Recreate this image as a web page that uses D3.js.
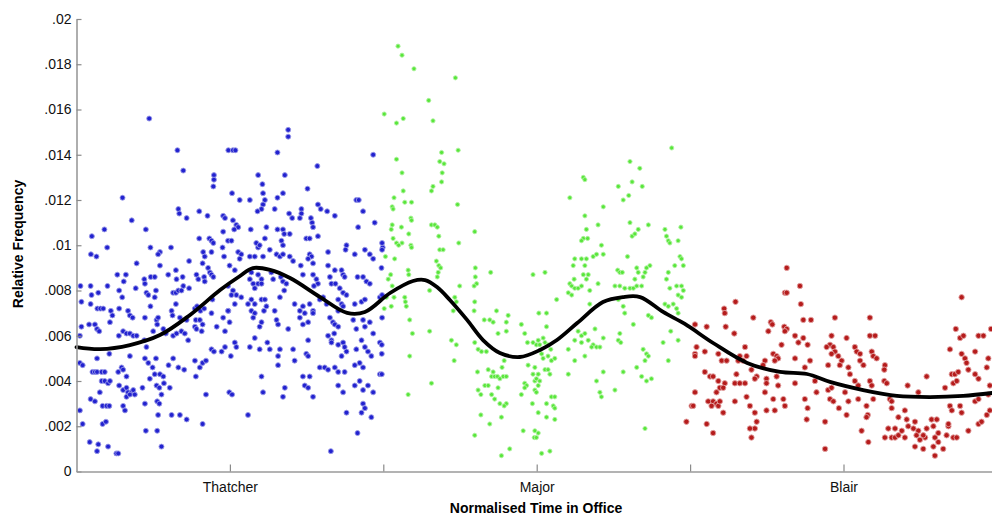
<!DOCTYPE html>
<html lang="en">
<head>
<meta charset="UTF-8">
<title>Relative frequency over normalised time in office</title>
<script src="https://d3js.org/d3.v7.min.js"></script>
<style>
  body { margin: 0; background: #fff; }
  svg { display: block; font-family: "Liberation Sans", Arial, sans-serif; }
</style>
</head>
<body>
<svg></svg>
<script>
// categories and tick labels
const pms = ["Thatcher", "Major", "Blair"];
const xTicks = [0.5, 1, 1.5, 2, 2.5];
const xTickLabels = ["Thatcher", "", "Major", "", "Blair"];
const yTicks = [0, .002, .004, .006, .008, .01, .012, .014, .016, .018, .02];
const yTickLabels = ["0", ".002", ".004", ".006", ".008", ".01", ".012", ".014", ".016", ".018", ".02"];

// [normalised time, relative frequency]
const thatcher = [
[.237,.0156],[.329,.0142],[.348,.0133],[.495,.0142],[.448,.0131],[.448,.0129],[.446,.0126],[.150,.0121],[.332,.0116],[.335,.0114],[.359,.0112],[.400,.0115],[.427,.0113],[.478,.0113],[.484,.0112],[.180,.0111],[.091,.0107],[.050,.0104],[.226,.0107],[.400,.0103],[.433,.0103],[.440,.0102],[.446,.0101],[.478,.0106],[.100,.0099],[.047,.0096],[.065,.0095],[.241,.0099],[.272,.0097],[.266,.0096],[.308,.0099],[.413,.0097],[.418,.0095],[.440,.0097],[.476,.0099],[.481,.0095],[.196,.0092],[.367,.0093],[.411,.0092],[.429,.0090],[.435,.0088],[.440,.0087],[.446,.0086],[.272,.0091],[.324,.0089],[.013,.0082],[.046,.0082],[.133,.0087],[.161,.0087],[.101,.0082],[.154,.0084],[.193,.0081],[.221,.0085],[.223,.0083],[.242,.0086],[.255,.0086],[.299,.0087],[.326,.0085],[.346,.0086],[.348,.0082],[.391,.0087],[.397,.0085],[.416,.0086],[.418,.0084],
[.049,.0078],[.071,.0079],[.139,.0080],[.149,.0077],[.228,.0079],[.234,.0078],[.259,.0080],[.255,.0077],[.315,.0079],[.324,.0079],[.332,.0080],[.342,.0080],[.367,.0081],[.443,.0076],[.016,.0075],[.046,.0074],[.068,.0072],[.078,.0072],[.087,.0072],[.112,.0071],[.117,.0069],[.139,.0072],[.168,.0071],[.174,.0069],[.183,.0068],[.223,.0068],[.241,.0073],[.261,.0067],[.266,.0068],[.263,.0065],[.310,.0071],[.313,.0069],[.324,.0074],[.337,.0068],[.359,.0067],[.386,.0072],[.393,.0073],[.404,.0071],[.416,.0072],[.389,.0067],[.402,.0067],[.411,.0065],[.440,.0070],[.478,.0068],[.495,.0071],
[.016,.0064],[.041,.0065],[.060,.0065],[.067,.0063],[.074,.0062],[.109,.0066],[.138,.0060],[.152,.0062],[.163,.0061],[.174,.0061],[.185,.0060],[.196,.0060],[.221,.0058],[.228,.0055],[.250,.0062],[.283,.0063],[.291,.0061],[.315,.0060],[.326,.0061],[.342,.0062],[.353,.0061],[.364,.0058],[.386,.0064],[.391,.0063],[.408,.0062],[.457,.0064],[.484,.0062],[.011,.0060],[.011,.0048],[.020,.0047],[.067,.0050],[.107,.0052],[.136,.0044],[.147,.0046],[.152,.0045],[.163,.0042],[.174,.0051],[.223,.0050],[.234,.0048],[.259,.0050],[.248,.0046],[.255,.0043],[.272,.0043],[.283,.0042],[.300,.0047],[.315,.0050],[.332,.0046],[.351,.0045],[.386,.0049],[.389,.0042],[.402,.0046],[.411,.0048],[.422,.0049],[.440,.0054],[.448,.0053],[.473,.0053],[.484,.0055],
[.052,.0044],[.060,.0044],[.067,.0044],[.082,.0044],[.092,.0044],[.082,.0040],[.092,.0040],[.103,.0039],[.109,.0040],[.139,.0038],[.152,.0036],[.163,.0037],[.168,.0035],[.179,.0035],[.163,.0033],[.174,.0034],[.185,.0036],[.190,.0034],[.215,.0037],[.239,.0041],[.261,.0038],[.270,.0037],[.285,.0039],[.304,.0037],[.277,.0034],[.046,.0032],[.060,.0031],[.076,.0035],[.085,.0029],[.098,.0029],[.107,.0029],[.152,.0029],[.158,.0027],[.223,.0030],[.263,.0031],[.270,.0030],[.266,.0025],[.310,.0025],[.337,.0025],[.359,.0023],[.422,.0034],[.411,.0021],[.498,.0035],[.011,.0027],[.020,.0021],[.085,.0021],[.096,.0022],[.226,.0018],[.263,.0018],[.043,.0013],[.071,.0012],[.067,.0009],[.103,.0011],[.130,.0008],[.136,.0008],[.277,.0011],
[.690,.0151],[.690,.0148],[.510,.0142],[.518,.0142],[.655,.0141],[.967,.0140],[.785,.0135],[.592,.0131],[.679,.0131],[.606,.0127],[.753,.0125],[.507,.0123],[.532,.0120],[.565,.0120],[.608,.0123],[.614,.0120],[.608,.0118],[.603,.0116],[.655,.0121],[.673,.0123],[.590,.0115],[.646,.0116],[.693,.0114],[.703,.0112],[.733,.0116],[.733,.0114],[.728,.0112],[.764,.0112],[.768,.0110],[.771,.0108],[.787,.0118],[.796,.0116],[.817,.0115],[.842,.0113],[.912,.0120],[.920,.0120],[.934,.0115],[.972,.0110],[.918,.0108],[.510,.0111],[.521,.0109],[.527,.0108],[.514,.0107],[.568,.0107],[.619,.0108],[.655,.0107],[.673,.0107],[.677,.0105],[.695,.0105],[.749,.0103],[.760,.0103],[.787,.0104],[.614,.0103],[.494,.0102],[.505,.0102],[.586,.0101],[.592,.0099],[.597,.0100],[.668,.0102],[.673,.0100],[.630,.0098],[.527,.0097],[.537,.0096],[.532,.0094],[.565,.0095],[.581,.0095],[.608,.0095],[.652,.0096],[.663,.0095],[.673,.0096],[.695,.0095],[.706,.0093],[.760,.0096],[.766,.0095],[.755,.0094],[.771,.0092],[.731,.0091],[.820,.0097],[.880,.0100],[.877,.0098],[.907,.0096],[.940,.0098],[.956,.0096],[.967,.0094],[.998,.0099],
[.499,.0091],[.516,.0089],[.570,.0088],[.565,.0085],[.576,.0083],[.581,.0081],[.592,.0087],[.603,.0085],[.592,.0083],[.603,.0083],[.635,.0088],[.641,.0085],[.666,.0086],[.673,.0084],[.684,.0083],[.738,.0087],[.771,.0087],[.782,.0085],[.787,.0083],[.774,.0082],[.820,.0091],[.826,.0086],[.831,.0083],[.842,.0089],[.864,.0089],[.869,.0087],[.874,.0086],[.844,.0083],[.858,.0081],[.869,.0079],[.880,.0078],[.916,.0086],[.934,.0086],[.945,.0084],[.956,.0083],[.494,.0082],[.510,.0080],[.521,.0078],[.505,.0078],[.537,.0077],[.516,.0074],[.559,.0074],[.570,.0076],[.581,.0074],[.603,.0076],[.614,.0076],[.619,.0073],[.611,.0071],[.663,.0077],[.677,.0080],[.711,.0074],[.728,.0071],[.738,.0073],[.744,.0070],[.760,.0074],[.771,.0071],[.793,.0076],[.804,.0077],[.815,.0074],[.853,.0076],[.864,.0074],[.853,.0071],[.869,.0073],[.907,.0074],[.929,.0075],[.940,.0076],[.989,.0077],
[.494,.0071],[.499,.0066],[.570,.0071],[.581,.0070],[.576,.0068],[.603,.0066],[.597,.0064],[.646,.0071],[.652,.0067],[.657,.0065],[.690,.0063],[.728,.0068],[.738,.0065],[.755,.0066],[.771,.0070],[.826,.0068],[.836,.0066],[.842,.0065],[.853,.0064],[.902,.0067],[.912,.0063],[.934,.0067],[.940,.0064],[.956,.0066],[.516,.0057],[.521,.0055],[.503,.0051],[.565,.0055],[.581,.0059],[.597,.0054],[.622,.0057],[.630,.0054],[.663,.0054],[.657,.0051],[.706,.0054],[.711,.0049],[.749,.0052],[.755,.0051],[.755,.0058],[.820,.0060],[.831,.0058],[.840,.0061],[.831,.0057],[.853,.0056],[.869,.0057],[.874,.0055],[.864,.0051],[.880,.0053],[.912,.0054],[.929,.0058],[.940,.0055],[.950,.0053],[.961,.0051],[.923,.0048],[.934,.0046],[.967,.0061],[.989,.0057],
[.657,.0047],[.793,.0046],[.809,.0046],[.820,.0045],[.842,.0046],[.853,.0044],[.874,.0044],[.907,.0047],[.989,.0043],[.603,.0042],[.738,.0042],[.760,.0042],[.744,.0038],[.755,.0037],[.771,.0033],[.679,.0037],[.673,.0033],[.608,.0035],[.507,.0034],[.853,.0038],[.869,.0035],[.907,.0038],[.923,.0040],[.934,.0036],[.950,.0038],[.967,.0035],[.934,.0030],[.940,.0028],[.929,.0026],[.961,.0024],[.880,.0026],[.559,.0025],[.916,.0017],[.829,.0009],
[.996,.0101],[.996,.0098],[.994,.0090],[.996,.0078],[.996,.0068],[.995,.0056],[.995,.0052],[.995,.0043]
];

const major = [
[1.048,.0188],[1.061,.0184],[1.100,.0178],[1.235,.0174],[1.148,.0164],[1.003,.0158],[1.043,.0154],[1.065,.0156],[1.162,.0155],[1.190,.0141],[1.244,.0142],[1.043,.0138],[1.184,.0137],[1.198,.0136],[1.192,.0132],[1.190,.0128],[1.061,.0132],[1.065,.0124],[1.162,.0126],[1.157,.0124],[1.035,.0121],[1.029,.0117],[1.032,.0116],[1.070,.0119],[1.092,.0119],[1.242,.0118],[1.090,.0112],[1.092,.0111],[1.029,.0109],[1.026,.0107],[1.032,.0103],[1.059,.0108],[1.157,.0109],[1.168,.0109],[1.176,.0108],[1.083,.0105],[1.298,.0106],[1.181,.0104],[1.043,.0101],[1.061,.0101],[1.050,.0100],[1.090,.0100],[1.092,.0099],[1.246,.0101],[1.007,.0095],[1.184,.0098],[1.195,.0098],[1.037,.0094],[1.173,.0093],[1.181,.0091],[1.187,.0090],[1.300,.0090],[1.081,.0089],[1.083,.0087],[1.179,.0088],[1.176,.0086],[1.024,.0087],[1.016,.0085],[1.029,.0082],[1.350,.0088],[1.300,.0086],[1.304,.0083],[1.296,.0082],[1.488,.0087],[1.249,.0082],[1.151,.0080],
[1.010,.0077],[1.035,.0077],[1.070,.0077],[1.072,.0075],[1.075,.0073],[1.233,.0077],[1.238,.0075],[1.298,.0075],[1.003,.0072],[1.026,.0073],[1.228,.0071],[1.296,.0071],[1.369,.0071],[1.407,.0069],[1.086,.0067],[1.329,.0067],[1.347,.0067],[1.358,.0066],[1.401,.0066],[1.450,.0065],[1.461,.0061],[1.374,.0061],[1.401,.0062],[1.151,.0062],[1.095,.0061],[1.222,.0058],[1.238,.0056],[1.298,.0057],[1.309,.0054],[1.320,.0053],[1.336,.0053],[1.470,.0057],[1.488,.0057],[1.499,.0056],[1.086,.0051],[1.231,.0049],[1.472,.0047],[1.307,.0044],[1.342,.0045],[1.358,.0044],[1.353,.0042],[1.363,.0042],[1.372,.0042],[1.380,.0041],[1.391,.0042],[1.401,.0042],[1.394,.0049],[1.387,.0046],[1.461,.0039],[1.467,.0038],[1.488,.0043],[1.494,.0040],[1.331,.0038],[1.342,.0038],[1.309,.0036],[1.318,.0034],[1.374,.0037],[1.353,.0034],[1.363,.0032],[1.450,.0034],[1.461,.0037],[1.380,.0030],[1.401,.0030],[1.394,.0029],[1.486,.0030],[1.318,.0025],[1.385,.0024],[1.347,.0021],[1.456,.0018],[1.492,.0015],[1.298,.0016],[1.412,.0010],[1.385,.0007],[1.157,.0039],[1.081,.0034],
[1.940,.0143],[1.804,.0137],[1.836,.0134],[1.652,.0130],[1.657,.0129],[1.811,.0128],[1.766,.0126],[1.844,.0126],[1.608,.0121],[1.800,.0122],[1.782,.0120],[1.717,.0117],[1.657,.0113],[1.700,.0109],[1.804,.0110],[1.831,.0107],[1.864,.0109],[1.662,.0107],[1.652,.0103],[1.646,.0102],[1.666,.0103],[1.811,.0104],[1.820,.0105],[1.918,.0107],[1.923,.0104],[1.929,.0102],[1.934,.0101],[1.961,.0102],[1.970,.0108],[1.711,.0100],[1.717,.0096],[1.624,.0094],[1.646,.0094],[1.662,.0094],[1.684,.0095],[1.695,.0096],[1.796,.0095],[1.967,.0095],[1.972,.0094],[1.527,.0088],[1.657,.0091],[1.619,.0091],[1.869,.0091],[1.858,.0090],[1.826,.0090],[1.831,.0088],[1.764,.0089],[1.771,.0088],[1.779,.0088],[1.929,.0088],[1.950,.0091],[1.978,.0091],[1.652,.0087],[1.662,.0085],[1.668,.0087],[1.622,.0085],[1.608,.0083],[1.614,.0082],[1.624,.0081],[1.635,.0081],[1.646,.0082],[1.700,.0083],[1.755,.0082],[1.771,.0082],[1.787,.0081],[1.804,.0081],[1.815,.0081],[1.826,.0082],[1.842,.0082],[1.820,.0085],[1.847,.0086],[1.853,.0088],[1.956,.0082],[1.972,.0082],[1.978,.0080],[1.961,.0078],[1.972,.0077],[1.923,.0085],[1.934,.0081],
[1.603,.0079],[1.614,.0078],[1.673,.0080],[1.673,.0074],[1.565,.0076],[1.507,.0070],[1.532,.0070],[1.766,.0076],[1.782,.0073],[1.787,.0070],[1.864,.0069],[1.874,.0068],[1.918,.0074],[1.929,.0073],[1.945,.0074],[1.956,.0072],[1.961,.0070],[1.815,.0065],[1.532,.0064],[1.635,.0062],[1.646,.0060],[1.657,.0061],[1.690,.0063],[1.771,.0061],[1.766,.0058],[1.774,.0057],[1.937,.0062],[1.505,.0058],[1.521,.0059],[1.527,.0057],[1.510,.0056],[1.537,.0056],[1.624,.0058],[1.646,.0057],[1.668,.0058],[1.684,.0056],[1.695,.0055],[1.706,.0055],[1.717,.0059],[1.679,.0055],[1.912,.0057],[1.961,.0058],[1.546,.0054],[1.537,.0051],[1.548,.0049],[1.603,.0054],[1.516,.0052],[1.521,.0050],[1.559,.0050],[1.624,.0049],[1.657,.0051],[1.847,.0054],[1.858,.0052],[1.853,.0049],[1.864,.0051],[1.826,.0046],[1.929,.0049],[1.494,.0046],[1.505,.0043],[1.499,.0041],[1.510,.0040],[1.505,.0038],[1.527,.0045],[1.537,.0045],[1.543,.0043],[1.717,.0044],[1.782,.0044],[1.603,.0043],[1.842,.0042],[1.858,.0040],[1.874,.0041],[1.695,.0040],[1.494,.0036],[1.499,.0035],[1.755,.0036],[1.706,.0035],[1.711,.0033],[1.532,.0030],[1.554,.0029],[1.559,.0028],[1.548,.0033],[1.559,.0033],[1.505,.0026],[1.532,.0024],[1.559,.0023],[1.494,.0018],[1.505,.0017],[1.499,.0015],[1.853,.0019],[1.516,.0008],[1.543,.0009]
];

const blair = [
[2.315,.0090],[2.309,.0079],[2.315,.0079],[2.358,.0082],[2.148,.0075],[2.361,.0074],[2.885,.0077],[2.111,.0072],[2.113,.0070],[2.206,.0068],[2.369,.0067],[2.394,.0067],[2.472,.0068],[2.586,.0068],[2.016,.0065],[2.054,.0064],[2.116,.0064],[2.144,.0061],[2.263,.0066],[2.268,.0065],[2.255,.0062],[2.307,.0064],[2.315,.0063],[2.309,.0062],[2.342,.0060],[2.369,.0059],[2.353,.0057],[2.383,.0056],[2.866,.0063],[2.880,.0059],[2.891,.0060],[2.940,.0060],[2.956,.0060],[2.981,.0063],[2.461,.0060],[2.456,.0056],[2.445,.0055],[2.467,.0055],[2.472,.0053],[2.461,.0052],[2.510,.0059],[2.586,.0060],[2.603,.0060],[2.537,.0055],[2.543,.0053],[2.554,.0052],[2.592,.0053],[2.597,.0051],[2.608,.0050],
[2.021,.0055],[2.016,.0052],[2.016,.0051],[2.048,.0053],[2.092,.0052],[2.103,.0049],[2.119,.0049],[2.179,.0055],[2.162,.0051],[2.157,.0049],[2.173,.0049],[2.184,.0051],[2.244,.0049],[2.238,.0047],[2.271,.0052],[2.282,.0051],[2.287,.0050],[2.276,.0049],[2.298,.0056],[2.342,.0050],[2.391,.0049],[2.374,.0046],[2.483,.0051],[2.494,.0049],[2.488,.0047],[2.450,.0047],[2.516,.0046],[2.521,.0043],[2.554,.0049],[2.565,.0047],[2.635,.0047],[2.633,.0045],[2.847,.0054],[2.885,.0052],[2.896,.0050],[2.901,.0048],[2.907,.0045],[2.929,.0053],[2.972,.0050],[2.967,.0046],[2.853,.0043],[2.863,.0043],[2.874,.0044],[2.929,.0043],[2.940,.0041],
[2.048,.0044],[2.065,.0042],[2.075,.0042],[2.092,.0040],[2.097,.0037],[2.086,.0035],[2.113,.0039],[2.108,.0037],[2.151,.0043],[2.146,.0039],[2.162,.0039],[2.179,.0039],[2.200,.0045],[2.217,.0042],[2.211,.0041],[2.249,.0041],[2.249,.0039],[2.282,.0042],[2.287,.0038],[2.342,.0039],[2.407,.0040],[2.412,.0035],[2.450,.0036],[2.461,.0037],[2.505,.0035],[2.548,.0038],[2.537,.0040],[2.586,.0040],[2.592,.0038],[2.633,.0040],[2.641,.0039],[2.709,.0038],[2.771,.0042],[2.831,.0037],[2.858,.0039],[2.869,.0040],[2.929,.0031],[2.940,.0032],[2.972,.0034],[2.977,.0038],
[2.016,.0035],[2.005,.0029],[2.010,.0029],[2.059,.0031],[2.075,.0031],[2.086,.0030],[2.092,.0029],[2.070,.0029],[2.097,.0031],[2.146,.0031],[2.184,.0033],[2.195,.0029],[2.244,.0035],[2.271,.0032],[2.304,.0032],[2.309,.0029],[2.374,.0032],[2.383,.0028],[2.456,.0032],[2.467,.0031],[2.485,.0028],[2.516,.0031],[2.510,.0025],[2.548,.0032],[2.575,.0029],[2.579,.0025],[2.575,.0024],[2.597,.0032],[2.651,.0032],[2.657,.0031],[2.744,.0035],[2.847,.0029],[2.853,.0027],[2.880,.0029],[2.885,.0026],
[2.108,.0026],[2.211,.0026],[2.217,.0022],[2.211,.0019],[2.200,.0015],[2.249,.0027],[2.276,.0027],[2.380,.0023],[2.440,.0022],[2.559,.0018],[2.581,.0013],[2.657,.0028],[2.679,.0024],[2.646,.0019],[2.668,.0019],[2.657,.0015],[2.635,.0015],[2.668,.0015],[2.679,.0016],[2.700,.0027],[2.706,.0023],[2.711,.0020],[2.733,.0022],[2.728,.0019],[2.744,.0018],[2.738,.0016],[2.749,.0014],[2.766,.0015],[2.760,.0016],[2.771,.0019],[2.787,.0023],[2.793,.0020],[2.804,.0023],[2.809,.0017],[2.798,.0015],[2.690,.0018],[2.700,.0015],[2.733,.0011],[2.760,.0010],[2.793,.0011],[2.798,.0007],[2.825,.0010],[2.809,.0013],[2.842,.0020],[2.836,.0016],[2.858,.0015],[2.869,.0015],[2.842,.0021],[2.907,.0018],[2.940,.0021],[2.950,.0022],[2.967,.0025],[2.977,.0027],[1.988,.0022],[2.054,.0021],[2.075,.0017],[2.195,.0019],[2.440,.0010]
];

// smoothed trend
const trendT = [0, .077, .174, .272, .370, .468, .533, .575, .631, .696, .794, .882, .940, 1.022, 1.097, 1.136, 1.175, 1.217, 1.273, 1.325, 1.380, 1.445, 1.511, 1.566, 1.632, 1.716, 1.781, 1.837, 1.912, 1.983, 2.075, 2.186, 2.293, 2.381, 2.456, 2.564, 2.674, 2.782, 2.890, 2.984];
const trendF = [.0055, .00541, .00559, .00603, .00692, .00802, .00864, .00899, .00891, .00855, .00771, .00701, .00705, .00789, .00842, .00846, .00815, .00758, .00670, .00581, .00524, .00506, .00537, .00581, .00656, .00749, .00771, .00771, .00705, .00652, .00568, .00480, .00440, .00431, .00396, .00360, .00334, .00329, .00334, .00347];

const colors = { Thatcher: "#2323cf", Major: "#58e63a", Blair: "#b51d1d" };
const halo = { Thatcher: "#9a9ae8", Major: "#b0f2a0", Blair: "#e3a3a3" };
const radius = { Thatcher: 2.5, Major: 2.1, Blair: 2.7 };

const width = 992, height = 516;
const svg = d3.select("svg").attr("width", width).attr("height", height);

// soft edge like the scanned original
svg.append("defs").append("filter")
    .attr("id", "soft")
    .append("feGaussianBlur")
    .attr("stdDeviation", 0.4);

const x = d3.scaleLinear().domain([0, 3]).range([76.5, 996.9]);
const y = d3.scaleLinear().domain([0, .02]).range([471.5, 19]);

// points
const groups = [["Thatcher", thatcher], ["Major", major], ["Blair", blair]];
groups.forEach(([name, pts]) => {
    svg.append("g")
        .attr("filter", "url(#soft)")
        .selectAll("circle")
        .data(pts)
        .enter()
        .append("circle")
            .attr("cx", d => x(d[0]))
            .attr("cy", d => y(d[1]))
            .attr("r", radius[name])
            .attr("fill", colors[name])
            .attr("stroke", halo[name])
            .attr("stroke-width", 0.9);
});

// trend line
const line = d3.line()
    .x((d, i) => x(trendT[i]))
    .y(d => y(d))
    .curve(d3.curveCatmullRom.alpha(0.5));

svg.append("path")
    .attr("d", line(trendF))
    .attr("fill", "none")
    .attr("stroke", "#000")
    .attr("stroke-width", 3.8)
    .attr("stroke-linecap", "round");

// axes
const yAxis = svg.append("g")
    .attr("transform", `translate(${x(0)},0)`)
    .call(d3.axisLeft(y)
        .tickValues(yTicks)
        .tickFormat((d, i) => yTickLabels[i])
        .tickSizeInner(-5)
        .tickSizeOuter(0)
        .tickPadding(5));

const xAxis = svg.append("g")
    .attr("transform", `translate(0,${y(0)})`)
    .call(d3.axisBottom(x)
        .tickValues(xTicks)
        .tickFormat((d, i) => xTickLabels[i])
        .tickSizeInner(-7)
        .tickSizeOuter(0)
        .tickPadding(11));

[yAxis, xAxis].forEach(g => {
    g.select(".domain").attr("stroke", "#9a9a9a").attr("stroke-width", 1.6);
    g.selectAll(".tick line").attr("stroke", "#8a8a8a").attr("stroke-width", 1.2);
    g.selectAll(".tick text")
        .attr("fill", "#111")
        .style("font-size", "14px")
        .style("font-family", "'Liberation Sans', Arial, sans-serif");
});

// axis titles
svg.append("text")
    .attr("transform", "translate(23,244) rotate(-90)")
    .attr("text-anchor", "middle")
    .style("font-size", "14px")
    .style("font-weight", "bold")
    .attr("fill", "#000")
    .text("Relative Frequency");

svg.append("text")
    .attr("x", 536)
    .attr("y", 513)
    .attr("text-anchor", "middle")
    .style("font-size", "14px")
    .style("font-weight", "bold")
    .attr("fill", "#000")
    .text("Normalised Time in Office");
</script>
</body>
</html>
